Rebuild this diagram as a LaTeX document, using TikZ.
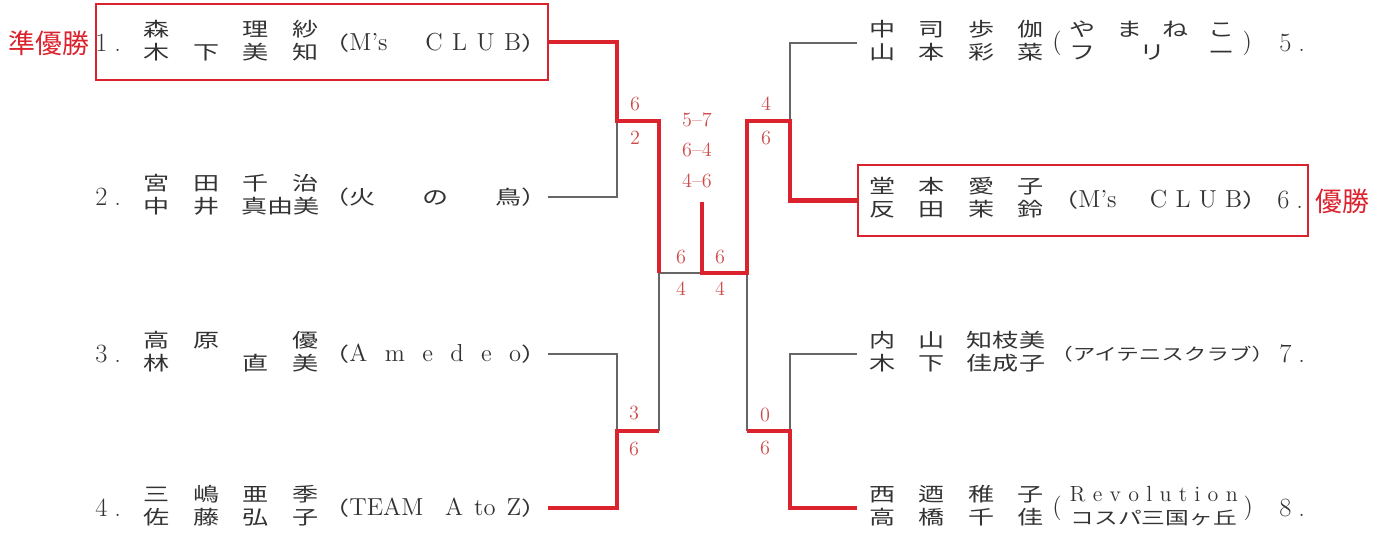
\documentclass[tikz,border=0pt]{standalone}
\usepackage{fontspec}
\usepackage{array}
\usetikzlibrary{fit}
\newfontfamily\jp{Noto Sans CJK JP}
\newfontfamily\jpw{Noto Sans CJK JP}[FakeStretch=1.35]
\newlength\pxu \setlength\pxu{0.02cm}
\newcolumntype{C}{>{\centering\arraybackslash}p{49.5\pxu}}
\newcommand\J{\jpw\fontsize{11}{13.1}\selectfont}
\newcommand\pair[1]{{\J\setlength\tabcolsep{0pt}\begin{tabular}{CCCC}#1\end{tabular}}}
\definecolor{rd}{RGB}{218,35,45}
\definecolor{sk}{RGB}{205,75,75}

\begin{document}
\begin{tikzpicture}[x=0.02cm,y=-0.02cm,
win/.style={draw=rd,line width=2.3pt},
los/.style={draw=black!60,line width=0.85pt},
frm/.style={draw=rd,line width=1.4pt,inner sep=0pt},
sc/.style={text=sk,font=\fontsize{11.5}{13}\selectfont,inner sep=0pt},
cl/.style={anchor=west,inner sep=0pt,text=black!80,font=\fontsize{14}{13.1}\selectfont},
nm/.style={inner sep=0pt,text=black!80},
no/.style={anchor=west,inner sep=0pt,text=black!80,font=\fontsize{15}{16}\selectfont},
lab/.style={text=rd,font=\jp\fontsize{15.3}{17}\selectfont,inner sep=0pt}]
\useasboundingbox (0,0) rectangle (1392,547);

\node[nm] (n1) at (231,43)  {\pair{森&&理&紗\\木&下&美&知}};
\node[nm] (n2) at (231,197) {\pair{宮&田&千&治\\中&井&\multicolumn{2}{c}{\makebox[99\pxu]{真由美}}}};
\node[nm] (n3) at (231,354) {\pair{高&原&&優\\林&&直&美}};
\node[nm] (n4) at (231,508) {\pair{三&嶋&亜&季\\佐&藤&弘&子}};
\node[nm] (n5) at (956.5,43)  {\pair{中&司&歩&伽\\山&本&彩&菜}};
\node[nm] (n6) at (956.5,200) {\pair{堂&本&愛&子\\反&田&茉&鈴}};
\node[nm] (n7) at (956.5,354) {\pair{内&山&\multicolumn{2}{c}{\makebox[99\pxu]{知枝美}}\\木&下&\multicolumn{2}{c}{\makebox[99\pxu]{佳成子}}}};
\node[nm] (n8) at (956.5,508) {\pair{西&迺&稚&子\\高&橋&千&佳}};

\node[cl] (c1) at (323,43)  {\makebox[224\pxu][s]{{\J（}M's\hfil\hfil\hfil\hfil C\hfil L\hfil U\hfil B{\J）}}};
\node[cl] (c2) at (323,197) {\makebox[224\pxu][s]{\J（火\hfil の\hfil 鳥）}};
\node[cl] (c3) at (323,354) {\makebox[224\pxu][s]{{\J（}A\hfil m\hfil e\hfil d\hfil e\hfil o{\J）}}};
\node[cl] (c4) at (323,508) {\makebox[224\pxu][s]{{\J（}TEAM\hfil\hfil A\hfil to\hfil Z{\J）}}};
\node[cl] (c5) at (1052,43) {(\hspace{8\pxu}\begin{tabular}{@{}c@{}}\makebox[165\pxu][s]{\J や\hfil ま\hfil ね\hfil こ}\\\makebox[165\pxu][s]{\J フ\hfil リ\hfil ー}\end{tabular}\hspace{8\pxu})};
\node[cl] (c6) at (1052,200) {\makebox[216\pxu][s]{{\J（}M's\hfil\hfil\hfil\hfil C\hfil L\hfil U\hfil B{\J）}}};
\node[cl] (c7) at (1050,354) {\jpw\fontsize{9.5}{12}\selectfont（アイテニスクラブ）};
\node[cl] (c8) at (1052,508) {(\hspace{8\pxu}\begin{tabular}{@{}c@{}}{\fontsize{12.5}{13}\selectfont\makebox[168\pxu][s]{R\hfil e\hfil v\hfil o\hfil l\hfil u\hfil t\hfil i\hfil o\hfil n}}\\{\jpw\fontsize{10}{13}\selectfont コスパ三国ヶ丘}\end{tabular}\hspace{6\pxu})};

\foreach \x/\y/\t [count=\i] in {95/43/1,95/197/2,95/354/3,95/508/4,1279/43/5,1277/200/6,1279/354/7,1279/508/8}
    \node[no] (k\i) at (\x,\y) {\t\kern4pt.};

\node[frm,fit={(96,4) (548,80)}] (b1) {};
\node[frm,fit={(858,165) (1308,236)}] (b6) {};
\node[lab] (w2) at (49,43) {準優勝};
\node[lab] (w1) at (1342,201) {優勝};

\coordinate (m12) at (617,121);
\coordinate (m34) at (617,431);
\coordinate (m56) at (790,121);
\coordinate (m78) at (790,431);
\coordinate (sl) at (659,273);
\coordinate (sr) at (747,273);
\coordinate (fn) at (702,273);
\coordinate (ft) at (702,202);

\draw[los] (c2.east) -| (m12);
\draw[los] (c3.east) -| (m34);
\draw[los] (n5.west) -| (m56);
\draw[los] (n7.west) -| (m78);
\draw[los] (sl |- m34) -- (sl) -- (fn);
\draw[los] (sr |- m78) -- (sr);
\draw[win] (b1.east) -| (m12) -| (sl);
\draw[win] (c4.east) -| (m34) -- (sl |- m34);
\draw[win] (ft) -- (fn) -- (sr) |- (m56) |- (b6.west);
\draw[win] (n8.west) -| (m78) -- (sr |- m78);

\foreach \x/\y/\t [count=\i] in {635/104/6,635/138/2,766/104/4,766/138/6,697/120/5--7,697/150/6--4,697/181/4--6,
    681/257/6,720/257/6,681/289/4,720/289/4,634/413/3,634/449/6,765/415/0,765/448/6}
    \node[sc] (s\i) at (\x,\y) {\t};
\end{tikzpicture}
\end{document}
